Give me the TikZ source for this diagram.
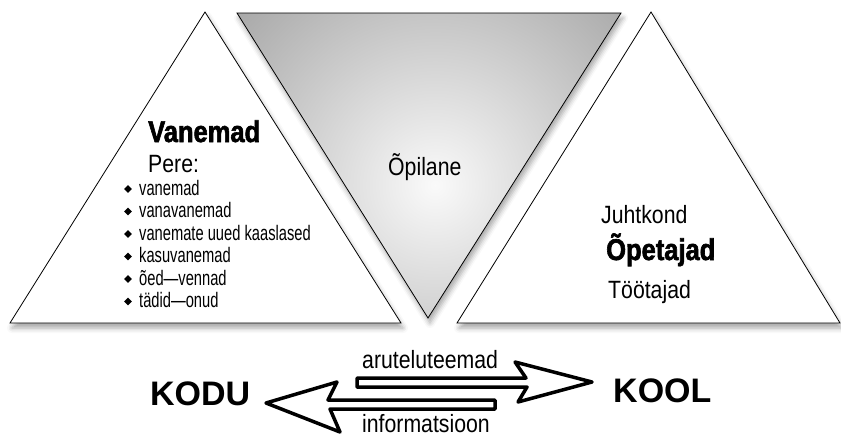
\documentclass[tikz,border=0pt]{standalone}
\usepackage{fontspec}
\setmainfont{Liberation Sans}[FakeStretch=0.85]
\newfontfamily\narrowfont{Liberation Sans}[FakeStretch=0.7]
\newfontfamily\heavyfont{Liberation Sans Bold}[FakeStretch=0.85, FakeBold=2]
\newfontfamily\plainfont{Liberation Sans Bold}
\usetikzlibrary{shapes.geometric, shadows.blur}

\begin{document}
\begin{tikzpicture}[x=1pt, y=-1pt,
    softshadow/.style={blur shadow={shadow xshift=2pt, shadow yshift=-5pt, shadow blur radius=5pt, shadow opacity=35}},
    tri/.style={draw=black, fill=white, line width=0.8pt, line join=miter, softshadow},
    body/.style={anchor=base west, inner sep=0pt, font=\fontsize{25}{28}\selectfont},
    heavy/.style={anchor=base west, inner sep=0pt, font=\heavyfont\fontsize{30}{32}\selectfont},
    small/.style={anchor=base west, inner sep=0pt, font=\narrowfont\fontsize{21}{24}\selectfont},
    place/.style={anchor=base west, inner sep=0pt, font=\plainfont\fontsize{34}{36}\selectfont},
    bulletmark/.style={diamond, fill=black, inner sep=0pt, minimum size=8pt},
    fatarrow/.style={draw=black, fill=white, line width=3.5pt, line join=round}]
    \useasboundingbox (0,0) rectangle (841,437);

    % Triangles
    \path[tri] (10,323) -- (205,12) -- (401,323) -- cycle;
    \path[tri] (457,323) -- (651,12) -- (840,323) -- cycle;
    \path[softshadow, fill=black!30] (237,13) -- (621,13) -- (428,318) -- cycle;
    \begin{scope}
      \clip (237,13) -- (621,13) -- (428,318) -- cycle;
      \shade[inner color=black!2, outer color=black!36] (435,185) circle (280);
    \end{scope}
    \draw[line width=0.8pt, line join=miter] (237,13) -- (621,13) -- (428,318) -- cycle;

    % Left triangle text
    \node[heavy] (vanemad) at (148,142) {Vanemad};
    \node[body] (pere) at (148,172) {Pere:};
    \foreach \entry [count=\i] in {vanemad, vanavanemad, vanemate uued kaaslased, kasuvanemad, õed—vennad, tädid—onud} {
      \node[small] (pere\i) at (139,{195+(\i-1)*22.5}) {\entry};
      \node[bulletmark] (dot\i) at (128,{189+(\i-1)*22.5}) {};
    }

    % Middle and right text
    \node[body] (opilane) at (388,175) {Õpilane};
    \node[body] (juhtkond) at (601,223) {Juhtkond};
    \node[heavy] (opetajad) at (606,260) {Õpetajad};
    \node[body] (tootajad) at (608,298) {Töötajad};

    % Bottom
    \node[place] (kodu) at (150,405) {KODU};
    \node[place] (kool) at (613,402) {KOOL};
    \node[body] (arutelu) at (362,368) {aruteluteemad};
    \node[body] (info) at (362,432) {informatsioon};

    % Arrows
    \draw[fatarrow] (495,400) -- (328,400) -- (337,382) -- (266,403) -- (340,432) -- (330,409) -- (495,409) -- cycle;
    \draw[fatarrow] (357,378) -- (526,378) -- (515,362) -- (592,382) -- (518,402) -- (527,387) -- (357,387) -- cycle;
\end{tikzpicture}
\end{document}
